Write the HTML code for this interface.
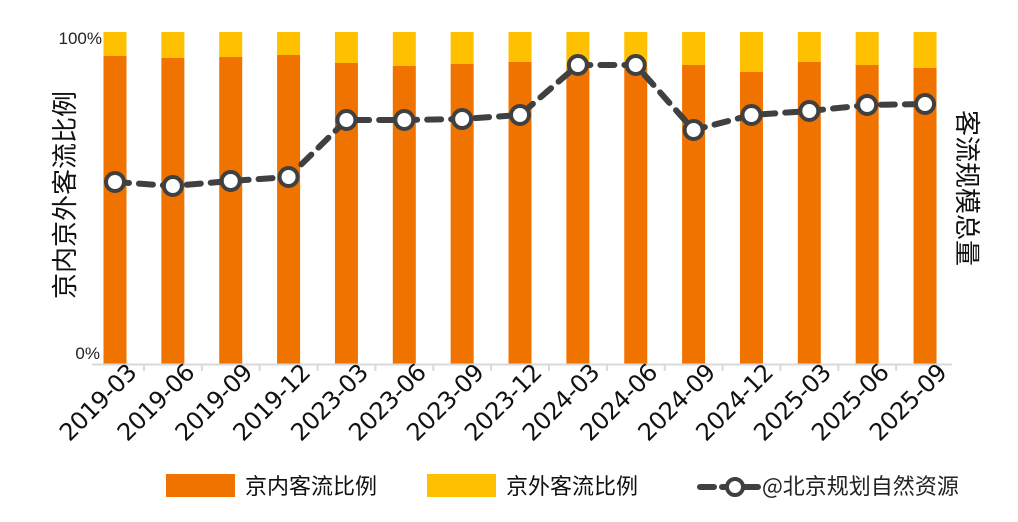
<!DOCTYPE html>
<html><head><meta charset="utf-8"><style>body{margin:0;background:#fff}svg{display:block}</style></head><body>
<svg width="1018" height="522" xmlns="http://www.w3.org/2000/svg" font-family="Liberation Sans, Noto Sans CJK SC, sans-serif">
<g id="bars"></g>
<line x1="92" y1="364.5" x2="952" y2="364.5" stroke="#d9d9d9" stroke-width="2"/>
<text x="102" y="44" font-size="17" text-anchor="end" fill="#222">100%</text>
<text x="100" y="359" font-size="17" text-anchor="end" fill="#222">0%</text>
<text transform="translate(74,195) rotate(-90)" font-size="26" text-anchor="middle" fill="#111" font-family="Noto Sans CJK SC, sans-serif">京内京外客流比例</text>
<text transform="translate(958,188) rotate(90)" font-size="26" text-anchor="middle" fill="#111" font-family="Noto Sans CJK SC, sans-serif">客流规模总量</text>
<g id="labels"></g>
<polyline id="ln" fill="none" stroke="#404040" stroke-width="6" stroke-dasharray="14,10" stroke-linecap="round"/>
<g id="marks"></g>
<rect x="166" y="474" width="69" height="23" fill="#f07300"/>
<text x="245" y="494" font-size="22" fill="#111" font-family="Noto Sans CJK SC, sans-serif">京内客流比例</text>
<rect x="427" y="474" width="69" height="23" fill="#ffc000"/>
<text x="506" y="494" font-size="22" fill="#111" font-family="Noto Sans CJK SC, sans-serif">京外客流比例</text>
<line x1="700" y1="487" x2="760" y2="487" stroke="#404040" stroke-width="6" stroke-dasharray="14,8" stroke-linecap="round"/>
<circle cx="735" cy="487" r="8" fill="#fff" stroke="#404040" stroke-width="4"/>
<text x="762" y="494" font-size="22" fill="#222" font-family="Noto Sans CJK SC, sans-serif">@北京规划自然资源</text>
</svg>
<script>
var ns="http://www.w3.org/2000/svg";
var labs=["2019-03","2019-06","2019-09","2019-12","2023-03","2023-06","2023-09","2023-12","2024-03","2024-06","2024-09","2024-12","2025-03","2025-06","2025-09"];
var tops=[56,58,57,55,63,66,64,62,68,68,65,72,62,65,68];
var ly=[182,186,181,177,120,120,119,115,65,65,130,115,111,105,104];
var b=document.getElementById("bars"),L=document.getElementById("labels"),M=document.getElementById("marks");
function el(t,a,p){var e=document.createElementNS(ns,t);for(var k in a)e.setAttribute(k,a[k]);p.appendChild(e);return e;}
var pts=[];
for(var i=0;i<15;i++){var cx=115+i*57.86;
el("rect",{x:cx-11.5,y:32,width:23,height:tops[i]-32,fill:"#ffc000"},b);
el("rect",{x:cx-11.5,y:tops[i],width:23,height:364-tops[i],fill:"#f07300"},b);
if(i<14)el("line",{x1:cx+29,y1:364,x2:cx+29,y2:371,stroke:"#d9d9d9","stroke-width":2},b);
var t=el("text",{transform:"translate("+(cx+23)+",374) rotate(-45)","font-size":"24","text-anchor":"end",fill:"#111","font-family":"DejaVu Sans, sans-serif","letter-spacing":"-0.5"},L);t.textContent=labs[i];
pts.push(cx+","+ly[i]);}
document.getElementById("ln").setAttribute("points",pts.join(" "));
for(var i=0;i<15;i++){el("circle",{cx:115+i*57.86,cy:ly[i],r:9,fill:"#fff",stroke:"#404040","stroke-width":4},M);}
</script>
</body></html>
